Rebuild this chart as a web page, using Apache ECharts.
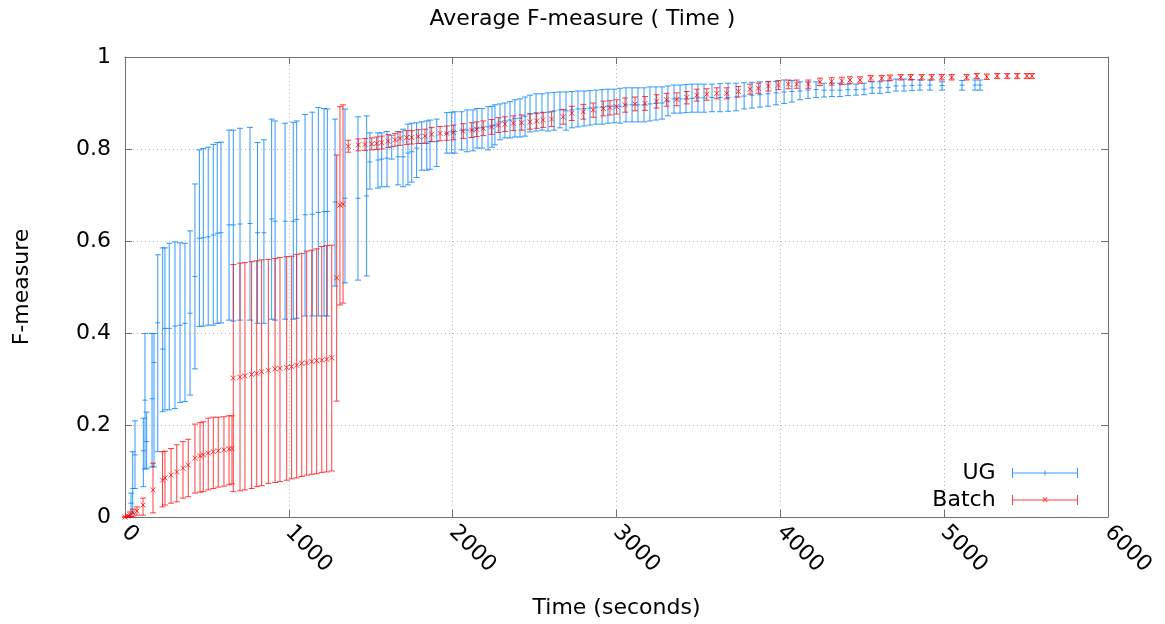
<!DOCTYPE html>
<html>
<head>
<meta charset="utf-8">
<script src="https://cdn.jsdelivr.net/npm/echarts@6/dist/echarts.min.js"></script>
<style>
  html, body { margin: 0; padding: 0; background: #fff; }
  #chart { width: 1165px; height: 624px; }
</style>
</head>
<body>
<div id="chart"></div>
<script>
// UG: time (s), mean F-measure, lower and upper error bounds
var ugTime = [37,47,61,112,122,132,165,177,200,230,
  244,270,305,336,366,397,427,454,478,508,
  539,563,586,635,661,702,763,809,848,895,
  916,977,1027,1048,1099,1143,1180,1215,1235,1282,
  1343,1422,1475,1495,1544,1567,1599,1628,1666,1697,
  1727,1750,1780,1811,1842,1862,1903,1964,1994,2014,
  2055,2088,2124,2149,2179,2216,2240,2258,2289,2319,
  2350,2380,2411,2442,2472,2509,2545,2582,2619,2655,
  2692,2728,2765,2802,2838,2875,2912,2948,2985,3021,
  3058,3095,3131,3168,3204,3241,3278,3314,3351,3388,
  3424,3461,3497,3534,3583,3632,3681,3730,3779,3827,
  3876,3925,3974,4023,4071,4120,4169,4218,4267,4315,
  4364,4413,4462,4511,4560,4608,4657,4706,4755,4804,
  4852,4913,4987,5109,5188,5219];
var ugMean = [.030,.062,.135,.144,.254,.164,.257,.336,.422,.365,
  .410,.410,.415,.417,.421,.443,.523,.606,.607,.609,
  .613,.617,.618,.635,.635,.637,.638,.618,.618,.648,
  .643,.643,.643,.647,.657,.658,.662,.664,.664,.685,
  .693,.693,.698,.772,.776,.778,.780,.805,.783,.783,
  .791,.794,.802,.812,.812,.816,.816,.834,.837,.838,
  .841,.841,.841,.845,.846,.848,.850,.852,.859,.861,
  .863,.866,.867,.871,.877,.879,.880,.880,.883,.885,
  .883,.885,.887,.888,.889,.891,.891,.893,.893,.893,
  .896,.896,.896,.896,.898,.899,.900,.904,.909,.909,
  .909,.910,.911,.911,.912,.912,.912,.913,.915,.917,
  .918,.920,.922,.924,.925,.926,.928,.929,.928,.928,
  .928,.929,.929,.930,.933,.933,.934,.937,.937,.938,
  .939,.939,.938,.939,.939,.939];
var ugLow = [.002,.008,.062,.066,.104,.106,.109,.109,.142,.229,
  .233,.233,.236,.249,.251,.265,.322,.414,.415,.417,
  .417,.421,.422,.428,.426,.428,.428,.421,.421,.430,
  .428,.430,.430,.432,.437,.437,.437,.437,.437,.502,
  .509,.515,.524,.713,.715,.718,.718,.778,.722,.718,
  .722,.728,.738,.754,.754,.756,.762,.791,.791,.791,
  .798,.794,.796,.802,.802,.798,.804,.809,.820,.824,
  .824,.826,.826,.828,.837,.839,.841,.839,.841,.846,
  .841,.846,.848,.850,.852,.854,.854,.856,.857,.856,
  .859,.859,.859,.859,.861,.863,.865,.872,.878,.878,
  .879,.880,.880,.880,.881,.881,.882,.883,.887,.889,
  .891,.893,.896,.899,.902,.907,.910,.912,.913,.914,
  .914,.916,.917,.918,.921,.921,.923,.926,.926,.927,
  .928,.928,.928,.928,.928,.928];
var ugHigh = [.052,.142,.209,.215,.399,.228,.399,.399,.570,.585,
  .585,.595,.598,.596,.595,.622,.724,.798,.801,.804,
  .810,.814,.815,.841,.841,.845,.847,.814,.820,.865,
  .861,.856,.858,.861,.875,.880,.890,.888,.887,.865,
  .887,.870,.872,.835,.835,.835,.838,.830,.838,.843,
  .854,.856,.857,.859,.861,.863,.865,.879,.880,.881,
  .881,.885,.885,.888,.888,.892,.893,.896,.898,.900,
  .903,.907,.909,.913,.917,.920,.920,.922,.923,.924,
  .924,.925,.926,.926,.927,.928,.929,.930,.930,.932,
  .933,.933,.933,.933,.935,.935,.935,.937,.939,.939,
  .940,.941,.941,.941,.941,.942,.943,.943,.944,.945,
  .946,.946,.947,.950,.949,.946,.946,.946,.943,.943,
  .943,.941,.941,.943,.946,.946,.948,.952,.952,.951,
  .950,.950,.946,.949,.950,.950];

// Batch
var batchTime = [0,18,31,49,73,110,171,229,244,281,
  316,354,386,427,458,478,508,539,569,604,
  635,653,661,702,732,773,804,834,875,916,
  946,987,1017,1048,1079,1109,1140,1170,1201,1231,
  1262,1292,1312,1331,1363,1424,1465,1506,1536,1567,
  1607,1648,1679,1719,1750,1790,1831,1872,1923,1964,
  2004,2065,2116,2147,2187,2238,2279,2319,2370,2421,
  2472,2513,2553,2604,2675,2727,2797,2858,2920,2960,
  3001,3052,3113,3174,3245,3306,3368,3429,3490,3551,
  3612,3673,3744,3815,3866,3927,3988,4049,4100,4171,
  4242,4313,4375,4425,4486,4552,4619,4669,4735,4796,
  4863,4924,4985,5046,5137,5199,5260,5324,5385,5446,
  5505,5536];
var batchMean = [0,.002,.004,.009,.013,.026,.059,.080,.085,.091,
  .098,.106,.113,.128,.133,.135,.139,.142,.144,.146,
  .148,.149,.302,.304,.307,.310,.312,.316,.319,.322,
  .323,.325,.327,.330,.334,.335,.338,.340,.341,.343,
  .346,.520,.678,.680,.806,.809,.810,.811,.812,.814,
  .817,.820,.823,.825,.825,.827,.828,.832,.834,.834,
  .836,.839,.841,.843,.845,.848,.852,.854,.856,.857,
  .859,.861,.863,.865,.870,.878,.881,.885,.888,.890,
  .892,.896,.898,.899,.904,.907,.908,.912,.917,.919,
  .921,.921,.925,.930,.932,.937,.939,.941,.941,.941,
  .946,.947,.948,.950,.950,.954,.954,.955,.956,.956,
  .956,.956,.956,.956,.956,.959,.957,.959,.959,.959,
  .959,.959];
var batchLow = [0,0,0,0,.004,.004,.009,.022,.026,.030,
  .033,.041,.044,.052,.054,.055,.059,.062,.065,.067,
  .070,.072,.055,.057,.059,.062,.066,.068,.073,.075,
  .077,.080,.083,.085,.088,.091,.093,.094,.097,.098,
  .100,.252,.461,.465,.793,.796,.797,.798,.799,.800,
  .803,.806,.808,.810,.811,.812,.813,.816,.818,.819,
  .820,.823,.825,.827,.829,.832,.836,.838,.840,.841,
  .843,.845,.847,.849,.854,.862,.865,.869,.872,.874,
  .876,.880,.883,.884,.889,.893,.894,.898,.904,.906,
  .909,.909,.913,.919,.921,.926,.929,.931,.932,.932,
  .938,.939,.940,.942,.943,.947,.948,.949,.950,.950,
  .950,.950,.950,.950,.950,.953,.951,.953,.953,.953,
  .953,.953];
var batchHigh = [0,.004,.011,.017,.022,.041,.117,.142,.143,.149,
  .157,.164,.169,.202,.205,.207,.215,.217,.217,.218,
  .220,.220,.549,.552,.553,.555,.557,.559,.560,.562,
  .564,.566,.567,.571,.573,.578,.580,.583,.588,.590,
  .591,.787,.892,.896,.819,.822,.823,.824,.826,.828,
  .831,.834,.837,.840,.840,.842,.843,.847,.849,.850,
  .852,.855,.857,.859,.861,.864,.868,.870,.872,.874,
  .876,.877,.879,.881,.886,.893,.897,.900,.904,.905,
  .907,.911,.913,.914,.918,.921,.922,.925,.930,.931,
  .933,.933,.936,.941,.943,.947,.949,.950,.950,.950,
  .954,.955,.956,.957,.957,.960,.960,.961,.962,.962,
  .962,.962,.962,.962,.962,.964,.963,.964,.964,.964,
  .964,.964];

var xTicks = [0, 6000, 1000];
var yTicks = [0, 1, 0.2];

var FONT = 'DejaVu Sans';
var BLUE = 'rgba(0,128,255,0.8)';
var RED = 'rgba(255,0,0,0.75)';
var BORDER = '#707070';

function rows(t, m, lo, hi) {
  return t.map(function (v, i) { return [v, m[i], lo[i], hi[i]]; });
}

function errorBars(color, cross) {
  return function (params, api) {
    var x = api.value(0);
    var p = api.coord([x, api.value(1)]);
    var lo = api.coord([x, api.value(2)]);
    var hi = api.coord([x, api.value(3)]);
    var s = { stroke: color, lineWidth: 1, fill: null };
    var c = 3, m = 2.5;
    var kids = [
      { type: 'line', shape: { x1: p[0], y1: lo[1], x2: p[0], y2: hi[1] }, style: s },
      { type: 'line', shape: { x1: p[0] - c, y1: lo[1], x2: p[0] + c, y2: lo[1] }, style: s },
      { type: 'line', shape: { x1: p[0] - c, y1: hi[1], x2: p[0] + c, y2: hi[1] }, style: s }
    ];
    if (cross) {
      kids.push({ type: 'line', shape: { x1: p[0] - m, y1: p[1] - m, x2: p[0] + m, y2: p[1] + m }, style: s });
      kids.push({ type: 'line', shape: { x1: p[0] - m, y1: p[1] + m, x2: p[0] + m, y2: p[1] - m }, style: s });
    } else {
      kids.push({ type: 'line', shape: { x1: p[0] - m, y1: p[1], x2: p[0] + m, y2: p[1] }, style: s });
    }
    return { type: 'group', children: kids };
  };
}

var ugIcon = 'path://M0,4.5H66V5.5H0Z M0,0H1V10H0Z M65,0H66V10H65Z M32.5,2.5H33.5V7.5H32.5Z';
var batchIcon = 'path://M0,4.5H66V5.5H0Z M0,0H1V10H0Z M65,0H66V10H65Z M30.5,2.8L31.2,2.1L35.5,6.5L34.8,7.2Z M34.8,2.1L35.5,2.8L31.2,7.2L30.5,6.5Z';

var chart = echarts.init(document.getElementById('chart'));

function mainAxis(pos, ticks, extra) {
  var a = {
    type: 'value',
    position: pos,
    min: ticks[0], max: ticks[1], interval: ticks[2],
    axisLine: { show: true, onZero: false, lineStyle: { color: BORDER, width: 1 } },
    axisTick: { show: true, inside: true, length: 7, lineStyle: { color: BORDER } },
    splitLine: { show: false },
    axisLabel: { show: false }
  };
  return Object.assign(a, extra || {});
}

var option = {
  animation: false,
  backgroundColor: '#fff',
  title: {
    text: 'Average F-measure ( Time )',
    left: 'center',
    top: 3,
    textStyle: { fontFamily: FONT, fontSize: 22, fontWeight: 'normal', color: '#000' }
  },
  legend: {
    orient: 'vertical',
    right: 82,
    top: 457,
    align: 'right',
    itemWidth: 66,
    itemHeight: 10,
    itemGap: 5,
    formatter: function (name) { return name + ' \u2009'; },
    textStyle: { fontFamily: FONT, fontSize: 22, color: '#000' },
    data: [
      { name: 'UG', icon: ugIcon },
      { name: 'Batch', icon: batchIcon }
    ]
  },
  grid: { left: 125, right: 57, top: 57, bottom: 107 },
  xAxis: [
    mainAxis('bottom', xTicks, {
      name: 'Time (seconds)',
      nameLocation: 'middle',
      nameGap: 80,
      nameTextStyle: { fontFamily: FONT, fontSize: 22, color: '#000' },
      splitLine: { show: true, lineStyle: { color: '#b4b4b4', type: [1, 3] } },
      axisLabel: {
        show: true, rotate: -45, margin: 12, fontFamily: FONT, fontSize: 22, color: '#000',
        formatter: function (v) { return String(v); }
      }
    }),
    mainAxis('top', xTicks)
  ],
  yAxis: [
    mainAxis('left', yTicks, {
      name: 'F-measure',
      nameLocation: 'middle',
      nameRotate: 90,
      nameGap: 92,
      nameTextStyle: { fontFamily: FONT, fontSize: 22, color: '#000' },
      splitLine: { show: true, lineStyle: { color: '#b4b4b4', type: [1, 3] } },
      axisLabel: { show: true, margin: 14, fontFamily: FONT, fontSize: 22, color: '#000' }
    }),
    mainAxis('right', yTicks)
  ],
  series: [
    {
      name: 'UG',
      type: 'custom',
      itemStyle: { color: BLUE },
      encode: { x: 0, y: [1, 2, 3] },
      renderItem: errorBars(BLUE, false),
      data: rows(ugTime, ugMean, ugLow, ugHigh)
    },
    {
      name: 'Batch',
      type: 'custom',
      itemStyle: { color: RED },
      encode: { x: 0, y: [1, 2, 3] },
      renderItem: errorBars(RED, true),
      data: rows(batchTime, batchMean, batchLow, batchHigh)
    }
  ]
};
chart.setOption(option);
</script>
</body>
</html>
